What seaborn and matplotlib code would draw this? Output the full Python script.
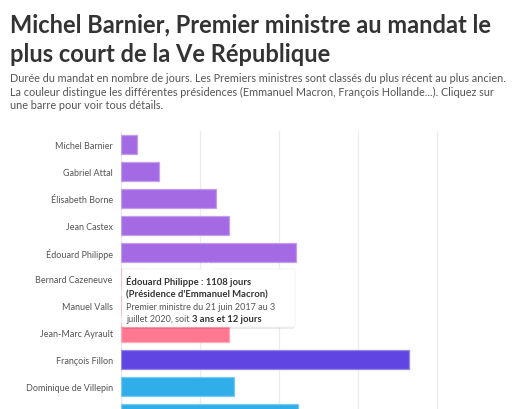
import matplotlib
matplotlib.use("Agg")
import matplotlib.pyplot as plt
import seaborn as sns
import pandas as pd
from matplotlib.patches import FancyBboxPatch, Polygon
import matplotlib.colors as mcolors

names = ["Michel Barnier", "Gabriel Attal", "Élisabeth Borne", "Jean Castex",
         "Édouard Philippe", "Bernard Cazeneuve", "Manuel Valls",
         "Jean-Marc Ayrault", "François Fillon", "Dominique de Villepin",
         "Jean-Pierre Raffarin"]
days = [99, 240, 603, 682, 1108, 160, 981, 685, 1825, 716, 1121]
presidences = ["Emmanuel Macron"] * 5 + ["François Hollande"] * 3 + \
              ["Nicolas Sarkozy"] + ["Jacques Chirac"] * 2
palette = {"Emmanuel Macron": "#a36ae3", "François Hollande": "#ff7890",
           "Nicolas Sarkozy": "#6145e2", "Jacques Chirac": "#30aeea"}
grid_ticks = [0, 500, 1000, 1500, 2000]

df = pd.DataFrame({"nom": names, "jours": days, "presidence": presidences})

sns.set_theme(style="white")
plt.rcParams['font.family'] = ['Lato', 'DejaVu Sans']

W, H = 520, 410
fig = plt.figure(figsize=(W / 100, H / 100), dpi=100)
ax_left, ax_top = 121, 132
ax = fig.add_axes([ax_left / W, 0, (W - ax_left) / W, (H - ax_top) / H])

sns.barplot(data=df, y="nom", x="jours", hue="presidence", palette=palette,
            dodge=False, orient="h", width=0.71, legend=False, ax=ax,
            saturation=1, zorder=3)

for bar in ax.patches:
    fc = mcolors.to_rgb(bar.get_facecolor())
    light = tuple(c + (1 - c) * 0.35 for c in fc)
    bar.set_edgecolor(light)
    bar.set_linewidth(0.9)

ax.set_xlim(0, (W - ax_left) / 0.158)
ax.set_ylim(-0.5 + (H - ax_top) / 26.9, -0.5)
ax.set_xticks(grid_ticks)
ax.set_xticklabels([])
ax.tick_params(axis="x", length=0)
ax.grid(axis="x", color="#ececec", linewidth=0.9, zorder=0)
ax.grid(axis="y", visible=False)
for s in ["top", "right", "bottom"]:
    ax.spines[s].set_visible(False)
ax.spines["left"].set_color("#e6e6e6")
ax.spines["left"].set_linewidth(0.8)
ax.set_xlabel("")
ax.set_ylabel("")
ax.tick_params(axis="y", length=3, width=0.8, color="#bbbbbb", pad=3,
               labelsize=6.5, labelcolor="#555555")

def fx(px):
    return px / W

def fy(py):
    return 1 - py / H

fig.text(fx(10), fy(32), "Michel Barnier, Premier ministre au mandat le",
         fontsize=17.0, fontweight="bold", color="#333333", va="baseline")
fig.text(fx(10), fy(62), "plus court de la Ve République",
         fontsize=17.0, fontweight="bold", color="#333333", va="baseline")
subs = ["Durée du mandat en nombre de jours. Les Premiers ministres sont classés du plus récent au plus ancien.",
        "La couleur distingue les différentes présidences (Emmanuel Macron, François Hollande...). Cliquez sur",
        "une barre pour voir tous détails."]
for i, s in enumerate(subs):
    fig.text(fx(10), fy(82 + i * 13.7), s, fontsize=7.8, color="#555555",
             va="baseline")

# tooltip
shadow = FancyBboxPatch((fx(123), fy(330)), fx(295) - fx(123), fy(271) - fy(330),
                        boxstyle="round,pad=0,rounding_size=0.004",
                        transform=fig.transFigure, facecolor="#000000",
                        alpha=0.08, edgecolor="none", zorder=9)
fig.patches.append(shadow)
box = FancyBboxPatch((fx(122), fy(328)), fx(295) - fx(122), fy(270) - fy(328),
                     boxstyle="round,pad=0,rounding_size=0.004",
                     transform=fig.transFigure, facecolor="white",
                     edgecolor="#f0f0f0", linewidth=0.5, zorder=10)
fig.patches.append(box)
arrow = Polygon([(fx(202), fy(270.5)), (fx(208.5), fy(263.5)), (fx(215), fy(270.5))],
                closed=True, transform=fig.transFigure, facecolor="white",
                edgecolor="none", zorder=11)
fig.patches.append(arrow)

tx = fx(126.5)
tb = 6.8
tn = 6.5
fig.text(tx, fy(285), "Édouard Philippe : 1108 jours", fontsize=tb,
         fontweight="bold", color="#333333", va="baseline", zorder=12)
fig.text(tx, fy(297.5), "(Présidence d'Emmanuel Macron)", fontsize=tb,
         fontweight="bold", color="#333333", va="baseline", zorder=12)
fig.text(tx, fy(310), "Premier ministre du 21 juin 2017 au 3", fontsize=tn,
         color="#555555", va="baseline", zorder=12)
t4 = fig.text(tx, fy(322.5), "juillet 2020, soit ", fontsize=tn,
              color="#555555", va="baseline", zorder=12)
r = fig.canvas.get_renderer()
bb = t4.get_window_extent(renderer=r)
fig.text(bb.x1 / (W), fy(322.5), "3 ans et 12 jours", fontsize=tb,
         fontweight="bold", color="#333333", va="baseline", zorder=12)

fig.savefig("out.png", dpi=100)
